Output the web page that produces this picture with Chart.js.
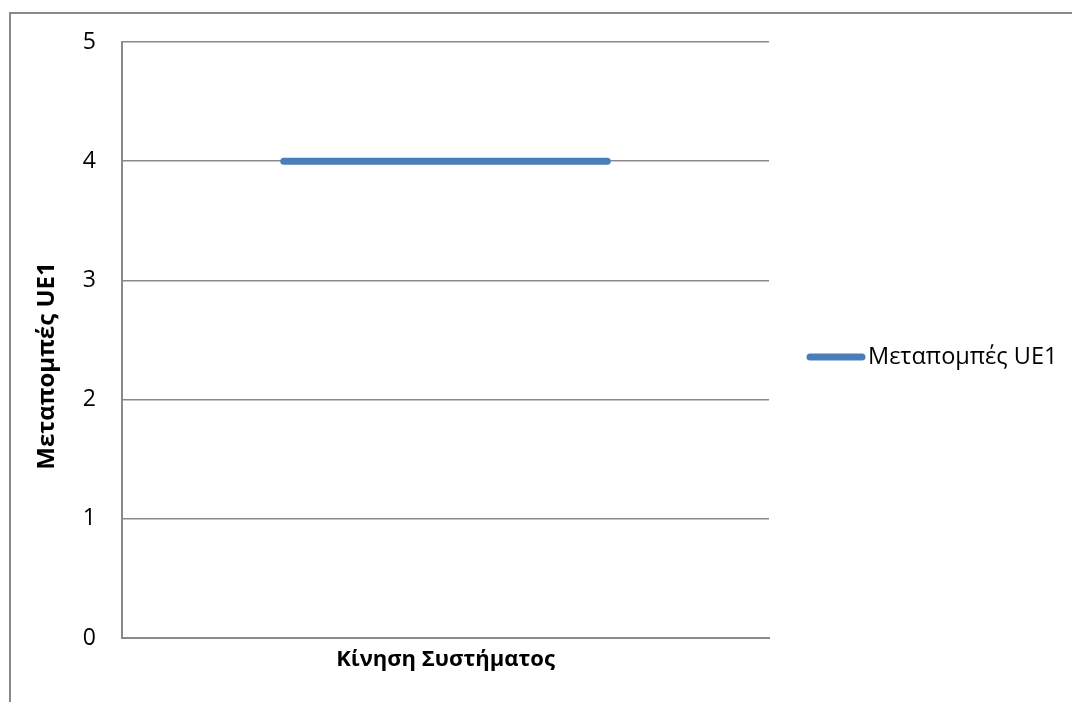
<!DOCTYPE html>
<html>
<head>
<meta charset="utf-8">
<script src="https://cdn.jsdelivr.net/npm/chart.js@4.4.1/dist/chart.umd.min.js"></script>
<style>
  html, body { margin: 0; padding: 0; background: #fff; }
  #wrap { width: 1072px; height: 702px; }
</style>
</head>
<body>
<div id="wrap"><canvas id="c" width="1072" height="702"></canvas></div>
<script>
// ---- data ----
const categories = ['', ''];
const seriesLabel = 'Μεταπομπές UE1';
const handoversUE1 = [4, 4];
const yMin = 0;
const yMax = 5;
const yStep = 1;
const xTitle = 'Κίνηση Συστήματος';
const yTitle = 'Μεταπομπές UE1';

const FONT = "'Open Sans', 'DejaVu Sans', sans-serif";
const GRAY = '#8a8a8a';
const BLUE = '#4A7EBB';

const framePlugin = {
  id: 'frame',
  beforeDraw(chart) {
    const c = chart.ctx;
    c.save();
    c.fillStyle = '#fff';
    c.fillRect(0, 0, chart.width, chart.height);
    c.strokeStyle = GRAY;
    c.lineWidth = 2;
    c.strokeRect(10, 13, chart.width + 50, chart.height + 50);
    c.restore();
  }
};

const yTitlePlugin = {
  id: 'yTitle',
  afterDraw(chart) {
    const c = chart.ctx;
    c.save();
    c.translate(47, 366);
    c.rotate(-Math.PI / 2);
    c.fillStyle = '#000';
    c.font = "bold 24px " + FONT;
    c.textAlign = 'center';
    c.textBaseline = 'middle';
    c.fillText(yTitle, 0, 0);
    c.restore();
  }
};

const legendPlugin = {
  id: 'customLegend',
  afterDraw(chart) {
    const c = chart.ctx;
    const ds = chart.data.datasets[0];
    const y = 357;
    c.save();
    c.strokeStyle = ds.borderColor;
    c.lineWidth = 7;
    c.lineCap = 'round';
    c.beginPath();
    c.moveTo(810, y);
    c.lineTo(862, y);
    c.stroke();
    c.fillStyle = '#000';
    c.font = "23.5px " + FONT;
    c.textBaseline = 'middle';
    c.textAlign = 'left';
    c.fillText(ds.label, 868, y);
    c.restore();
  }
};

new Chart(document.getElementById('c'), {
  type: 'line',
  data: {
    labels: categories,
    datasets: [{
      label: seriesLabel,
      data: handoversUE1,
      borderColor: BLUE,
      backgroundColor: BLUE,
      borderWidth: 7,
      borderCapStyle: 'round',
      pointRadius: 0,
      pointHoverRadius: 0,
      tension: 0,
      fill: false
    }]
  },
  options: {
    responsive: false,
    animation: false,
    events: [],
    layout: { padding: { top: 42, right: 303, bottom: 0, left: 0 } },
    plugins: {
      legend: { display: false },
      tooltip: { enabled: false },
      title: { display: false }
    },
    scales: {
      x: {
        type: 'category',
        offset: true,
        grid: { display: false, drawTicks: false },
        border: { display: true, color: GRAY, width: 2 },
        ticks: { display: false },
        title: {
          display: true,
          text: xTitle,
          color: '#000',
          font: { family: FONT, size: 22, weight: 'bold' },
          padding: { top: 0, bottom: 29 }
        },
        afterFit(scale) { scale.height = 64; }
      },
      y: {
        min: yMin,
        max: yMax,
        ticks: {
          stepSize: yStep,
          color: '#000',
          font: { family: FONT, size: 23 },
          padding: 26
        },
        grid: { color: GRAY, lineWidth: 1.5, drawTicks: false },
        border: { display: true, color: GRAY, width: 2 },
        title: { display: false },
        afterFit(scale) { scale.width = 122; }
      }
    }
  },
  plugins: [framePlugin, yTitlePlugin, legendPlugin]
});
</script>
</body>
</html>
